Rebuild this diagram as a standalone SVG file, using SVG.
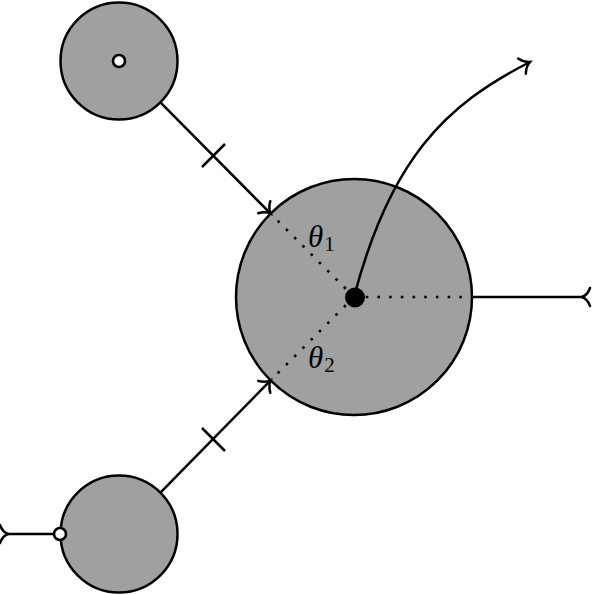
<svg xmlns="http://www.w3.org/2000/svg" width="592" height="595" viewBox="0 0 592 595">
  <style>
    .node { fill: #a0a0a0; stroke: #000; stroke-width: 2.5; }
    .edge { fill: none; stroke: #000; stroke-width: 2.5; }
    .dots { fill: none; stroke: #000; stroke-width: 2.6; stroke-dasharray: 2.6 9.1; }
    .port { fill: #fff; stroke: #000; stroke-width: 2.6; }
    .lbl { font-family: "Liberation Serif", "DejaVu Serif", serif; fill: #000; }
  </style>
  <defs>
    <marker id="to" markerUnits="userSpaceOnUse" orient="auto" markerWidth="20" markerHeight="20" refX="0" refY="0" overflow="visible">
      <path d="M-9,-8.5 C-6,-3 -2,-0.8 0,0 C-2,0.8 -6,3 -9,8.5" fill="none" stroke="#000" stroke-width="2.5" stroke-linecap="round"/>
    </marker>
    <marker id="rev" markerUnits="userSpaceOnUse" orient="auto" markerWidth="20" markerHeight="20" refX="0" refY="0" overflow="visible">
      <path d="M8,-9 C6,-3 2,-0.8 0,0 C2,0.8 6,3 8,9" fill="none" stroke="#000" stroke-width="2.5" stroke-linecap="round"/>
    </marker>
  </defs>

  <g id="node-top">
    <circle class="node" cx="119" cy="61" r="58.5"/>
  </g>
  <g id="node-bottom">
    <circle class="node" cx="119" cy="534" r="58.5"/>
  </g>
  <g id="node-center">
    <circle class="node" cx="354" cy="297" r="118"/>
  </g>

  <g id="connectors">
    <path class="dots" d="M354,297 L270.6,213.6"/>
    <path class="dots" d="M354,297 L270.6,380.4"/>
    <path class="dots" d="M354,297 L472,297"/>
    <path class="edge" d="M160.4,102.4 L270.6,213.6" marker-end="url(#to)"/>
    <path class="edge" d="M202,167 L225,144"/>
    <path class="edge" d="M160.4,492.6 L270.6,380.4" marker-end="url(#to)"/>
    <path class="edge" d="M202,428 L225,451"/>
    <path class="edge" d="M354,297 C390,160 445,105 530,62" marker-end="url(#to)"/>
    <path class="edge" d="M472,297 L582,297" marker-end="url(#rev)"/>
    <path class="edge" d="M60,534 L8,534" marker-end="url(#rev)"/>
  </g>

  <g id="port-top">
    <circle class="port" cx="119" cy="61" r="6"/>
  </g>
  <g id="port-bottom">
    <circle class="port" cx="60" cy="534" r="6"/>
  </g>
  <g id="center-dot">
    <circle cx="355" cy="297.5" r="10" fill="#000"/>
  </g>

  <g id="label-theta1">
    <text class="lbl" x="308" y="247" font-size="31" font-style="italic">θ<tspan font-size="21" font-style="normal" dx="1" dy="4">1</tspan></text>
  </g>
  <g id="label-theta2">
    <text class="lbl" x="308" y="368" font-size="31" font-style="italic">θ<tspan font-size="21" font-style="normal" dx="1" dy="4">2</tspan></text>
  </g>
</svg>
